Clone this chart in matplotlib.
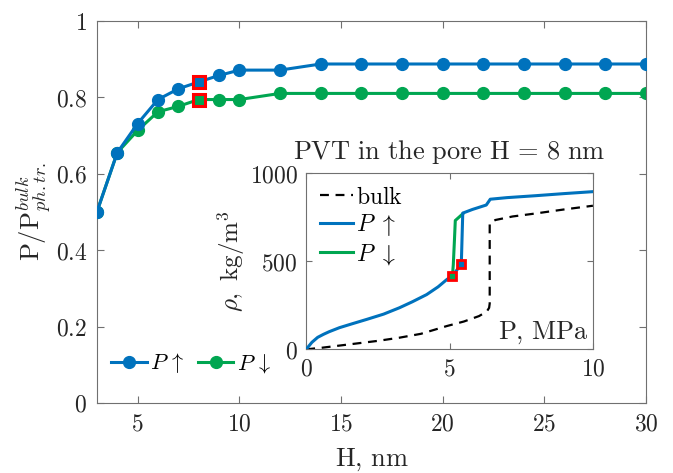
import numpy as np
import matplotlib
matplotlib.use('Agg')
import matplotlib.pyplot as plt
from matplotlib.ticker import FuncFormatter

plt.rcParams['mathtext.fontset'] = 'cm'
plt.rcParams['font.family'] = 'DejaVu Serif'

# main plot: ratio of pore transition pressure to bulk one vs pore width
H = [3, 4, 5, 6, 7, 8, 9, 10, 12, 14, 16, 18, 20, 22, 24, 26, 28, 30]
p_up = [0.5, 0.655, 0.731, 0.794, 0.822, 0.840, 0.857, 0.871, 0.871, 0.887,
        0.887, 0.887, 0.887, 0.887, 0.887, 0.887, 0.887, 0.887]
p_down = [0.5, 0.655, 0.713, 0.762, 0.776, 0.794, 0.794, 0.794, 0.810, 0.810,
          0.810, 0.810, 0.810, 0.810, 0.810, 0.810, 0.810, 0.810]
H_mark = 8
up_mark = 0.840
down_mark = 0.794

# inset: PVT in the pore H = 8 nm
bulk_P = [0, 0.5, 1.5, 2.5, 3.25, 4.0, 4.9, 5.5, 6.03, 6.3, 6.38, 6.4, 6.4, 6.6, 7.2, 8.0, 9.0, 10]
bulk_rho = [0, 8, 28, 48, 66, 88, 132, 158, 189, 215, 236, 260, 717, 735, 755, 772, 795, 816]
up_P = [0, 0.2, 0.4, 0.6, 0.8, 1.16, 1.6, 2.11, 2.7, 3.25, 3.7, 4.2, 4.6, 4.9, 5.1, 5.3, 5.41,
        5.43, 5.46, 5.8, 6.28, 6.42, 7.0, 8.0, 9.0, 10]
up_rho = [0, 40, 68, 85, 100, 123, 145, 170, 200, 236, 270, 311, 355, 396, 419, 460, 485,
          600, 774, 795, 820, 853, 862, 873, 885, 896]
down_P = [5.1, 5.13, 5.17, 5.2, 5.46]
down_rho = [419, 480, 620, 732, 770]
mark_P = [5.1, 5.41]
mark_rho = [419, 485]

blue = '#0072BD'
green = '#00A651'
gray = '#707070'
txt = '#262626'

def mfmt(x, pos):
    return '$%g$' % x

fig = plt.figure(figsize=(6.73, 4.73), dpi=100)
ax = fig.add_axes([0.144, 0.148, 0.816, 0.808])
ax.plot(H, p_down, '-o', color=green, lw=2.2, ms=8.5, label=r'$P\,\downarrow$')
ax.plot(H, p_up, '-o', color=blue, lw=2.2, ms=8.5, label=r'$P\,\uparrow$', zorder=3)
ax.plot([H_mark], [up_mark], 's', color=blue, mec='red', mew=2.2, ms=8.5, zorder=4)
ax.plot([H_mark], [down_mark], 's', color=green, mec='red', mew=2.2, ms=8.5, zorder=4)
ax.set_xlim(3, 30)
ax.set_ylim(0, 1)
ax.set_xticks([5, 10, 15, 20, 25, 30])
ax.set_yticks([0, 0.2, 0.4, 0.6, 0.8, 1])
ax.xaxis.set_major_formatter(FuncFormatter(mfmt))
ax.yaxis.set_major_formatter(FuncFormatter(mfmt))
ax.tick_params(direction='in', top=True, right=True, length=5, color=gray,
               labelsize=17, labelcolor=txt, pad=7)
for s in ax.spines.values():
    s.set_color(gray)
ax.set_xlabel(r'$\mathrm{H,\,nm}$', fontsize=19, color=txt, labelpad=8)
ax.set_ylabel(r'$\mathrm{P/P}^{bulk}_{ph.tr.}$', fontsize=19, color=txt, labelpad=2)
h, l = ax.get_legend_handles_labels()
ax.legend(h[::-1], l[::-1], loc='lower left', ncol=2, frameon=False, fontsize=16,
          handlelength=1.6, handletextpad=0.15, columnspacing=0.6,
          bbox_to_anchor=(-0.01, 0.02))

ins = fig.add_axes([0.455, 0.2615, 0.426, 0.372])
ins.plot(bulk_P, bulk_rho, '--', color='black', lw=1.6, dashes=(4, 3), label=r'$\mathrm{bulk}$')
ins.plot(down_P, down_rho, '-', color=green, lw=2.2, zorder=2)
ins.plot(up_P, up_rho, '-', color=blue, lw=2.2, label=r'$P\ \uparrow$', zorder=3)
ins.plot([], [], '-', color=green, lw=2.2, label=r'$P\ \downarrow$')
ins.plot(mark_P[0], mark_rho[0], 's', color=green, mec='red', mew=2, ms=6, zorder=4)
ins.plot(mark_P[1], mark_rho[1], 's', color=blue, mec='red', mew=2, ms=6, zorder=4)
ins.set_xlim(0, 10)
ins.set_ylim(0, 1000)
ins.set_xticks([0, 5, 10])
ins.set_yticks([0, 500, 1000])
ins.xaxis.set_major_formatter(FuncFormatter(mfmt))
ins.yaxis.set_major_formatter(FuncFormatter(mfmt))
ins.tick_params(direction='in', top=True, right=True, length=4, color=gray,
                labelsize=17, labelcolor=txt, pad=6)
for s in ins.spines.values():
    s.set_color(gray)
ins.set_ylabel(r'$\rho,\ \mathrm{kg/m^3}$', fontsize=18, color=txt, labelpad=2)
ins.text(0.985, 0.02, r'$\mathrm{P,\,MPa}$', transform=ins.transAxes, ha='right',
         va='bottom', fontsize=19, color=txt)
ins.set_title(r'$\mathrm{PVT\ in\ the\ pore\ H\,=\,8\ nm}$', fontsize=19, color=txt, pad=10)
ins.legend(loc='upper left', frameon=False, fontsize=17, handlelength=1.4,
           handletextpad=0.1, labelspacing=0.15, borderaxespad=0.2,
           bbox_to_anchor=(0.0, 1.01))

fig.savefig('out.png', dpi=100)
